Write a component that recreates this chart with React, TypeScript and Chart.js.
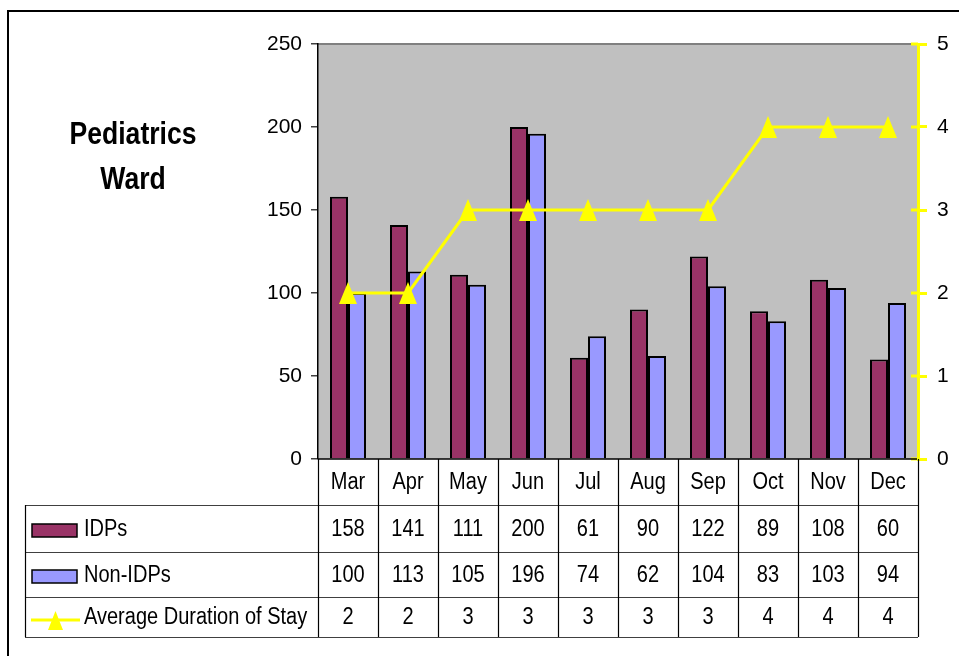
import React, { useEffect, useRef } from "react";
import { Chart, registerables } from "chart.js";

Chart.register(...registerables);

const categories = ["Mar", "Apr", "May", "Jun", "Jul", "Aug", "Sep", "Oct", "Nov", "Dec"];
const idps = [158, 141, 111, 200, 61, 90, 122, 89, 108, 60];
const nonIdps = [100, 113, 105, 196, 74, 62, 104, 83, 103, 94];
const avgStay = [2, 2, 3, 3, 3, 3, 3, 4, 4, 4];
const leftTicks = [0, 50, 100, 150, 200, 250];
const rightTicks = [0, 1, 2, 3, 4, 5];
const seriesNames = ["IDPs", "Non-IDPs", "Average Duration of Stay"];
const titleLines = ["Pediatrics", "Ward"];

const FONT = "'Liberation Sans', Arial, Helvetica, sans-serif";
const IDP_COLOR = "#993366";
const NON_COLOR = "#9999FF";
const LINE_COLOR = "#FFFF00";

function makeTriangle(w: number, h: number) {
  const c = document.createElement("canvas");
  c.width = w;
  c.height = h;
  const g = c.getContext("2d")!;
  g.fillStyle = LINE_COLOR;
  g.beginPath();
  g.moveTo(w / 2, 0);
  g.lineTo(w, h);
  g.lineTo(0, h);
  g.closePath();
  g.fill();
  return c;
}

function textScaled(ctx: CanvasRenderingContext2D, s: string, x: number, y: number, sx: number) {
  ctx.save();
  ctx.translate(x, y);
  ctx.scale(sx, 1);
  ctx.fillText(s, 0, 0);
  ctx.restore();
}

export default function App() {
  const ref = useRef<HTMLCanvasElement>(null);

  useEffect(() => {
    const canvas = ref.current!;
    const tri = makeTriangle(18, 22);

    const tablePlugin = {
      id: "tablePlugin",
      beforeDraw(chart: any) {
        const { ctx, chartArea } = chart;
        ctx.save();
        ctx.fillStyle = "#FFFFFF";
        ctx.fillRect(0, 0, chart.width, chart.height);
        ctx.fillStyle = "#C0C0C0";
        ctx.fillRect(chartArea.left, chartArea.top, chartArea.right - chartArea.left, chartArea.bottom - chartArea.top);
        ctx.strokeStyle = "#808080";
        ctx.lineWidth = 2;
        ctx.beginPath();
        ctx.moveTo(chartArea.left, chartArea.top);
        ctx.lineTo(chartArea.right, chartArea.top);
        ctx.stroke();
        ctx.restore();
      },
      afterDraw(chart: any) {
        const { ctx, chartArea, scales } = chart;
        const x = scales.x;
        const y1 = scales.y1;
        const L = chartArea.left;
        const R = chartArea.right;
        const B = chartArea.bottom;
        ctx.save();

        // inner yellow tick parts on right axis
        ctx.strokeStyle = LINE_COLOR;
        ctx.lineWidth = 3;
        rightTicks.forEach((t) => {
          const py = y1.getPixelForValue(t);
          ctx.beginPath();
          ctx.moveTo(R - 7, py);
          ctx.lineTo(R, py);
          ctx.stroke();
        });

        // x axis line
        ctx.strokeStyle = "#000";
        ctx.lineWidth = 1.5;
        ctx.beginPath();
        ctx.moveTo(L, B);
        ctx.lineTo(R - 1, B);
        ctx.stroke();

        // table geometry
        const rowCat = B + 46;
        const rowIdp = B + 93;
        const rowNon = B + 138;
        const rowEnd = B + 178;
        const tableLeft = 25;
        const n = categories.length;
        const half = (x.getPixelForValue(1) - x.getPixelForValue(0)) / 2;

        ctx.strokeStyle = "#404040";
        ctx.lineWidth = 1.2;
        [rowCat, rowIdp, rowNon, rowEnd].forEach((yy) => {
          ctx.beginPath();
          ctx.moveTo(tableLeft, yy + 0.5);
          ctx.lineTo(R, yy + 0.5);
          ctx.stroke();
        });
        ctx.strokeStyle = "#000";
        ctx.lineWidth = 1.2;
        ctx.beginPath();
        ctx.moveTo(tableLeft + 0.5, rowCat);
        ctx.lineTo(tableLeft + 0.5, rowEnd);
        ctx.stroke();
        for (let i = 0; i <= n; i++) {
          const px = i < n ? x.getPixelForValue(i) - half : x.getPixelForValue(n - 1) + half;
          ctx.beginPath();
          ctx.moveTo(Math.round(px) + 0.5, B);
          ctx.lineTo(Math.round(px) + 0.5, rowEnd);
          ctx.stroke();
        }

        // texts
        const SX = 0.87;
        ctx.fillStyle = "#000";
        ctx.font = `23px ${FONT}`;
        ctx.textAlign = "center";
        ctx.textBaseline = "middle";
        const rows = [idps, nonIdps, avgStay];
        const rowCenters = [(rowCat + rowIdp) / 2, (rowIdp + rowNon) / 2, (rowNon + rowEnd) / 2];
        categories.forEach((c, i) => {
          const px = x.getPixelForValue(i);
          textScaled(ctx, c, px, (B + rowCat) / 2 + 1, SX);
          rows.forEach((r, k) => {
            textScaled(ctx, String(r[i]), px, rowCenters[k] + 1, SX);
          });
        });

        // legend keys
        ctx.textAlign = "left";
        seriesNames.forEach((name, k) => {
          ctx.fillStyle = "#000";
          textScaled(ctx, name, 84, rowCenters[k] + 1, SX);
        });
        const keyX = 32;
        const keyW = 45;
        const keyH = 13;
        [IDP_COLOR, NON_COLOR].forEach((col, k) => {
          const cy = rowCenters[k] + 2;
          ctx.fillStyle = col;
          ctx.fillRect(keyX, cy - keyH / 2, keyW, keyH);
          ctx.strokeStyle = "#000";
          ctx.lineWidth = 1.5;
          ctx.strokeRect(keyX, cy - keyH / 2, keyW, keyH);
        });
        const ly = rowCenters[2] + 3;
        ctx.strokeStyle = LINE_COLOR;
        ctx.lineWidth = 3;
        ctx.beginPath();
        ctx.moveTo(31, ly);
        ctx.lineTo(80, ly);
        ctx.stroke();
        ctx.fillStyle = LINE_COLOR;
        ctx.beginPath();
        ctx.moveTo(55.5, ly - 9);
        ctx.lineTo(63, ly + 10);
        ctx.lineTo(48, ly + 10);
        ctx.closePath();
        ctx.fill();

        // title
        ctx.fillStyle = "#000";
        ctx.font = `bold 32px ${FONT}`;
        ctx.textAlign = "center";
        textScaled(ctx, titleLines[0], 133, 135, 0.83);
        textScaled(ctx, titleLines[1], 133, 180, 0.83);

        // outer border
        ctx.strokeStyle = "#000";
        ctx.lineWidth = 2;
        ctx.beginPath();
        ctx.moveTo(8, chart.height);
        ctx.lineTo(8, 11);
        ctx.lineTo(chart.width, 11);
        ctx.stroke();

        ctx.restore();
      },
    };

    const chart = new Chart(canvas, {
      type: "bar",
      data: {
        labels: categories,
        datasets: [
          {
            type: "line",
            label: seriesNames[2],
            data: avgStay,
            yAxisID: "y1",
            borderColor: LINE_COLOR,
            backgroundColor: LINE_COLOR,
            borderWidth: 3,
            pointStyle: tri as any,
            pointRadius: 10,
            tension: 0,
            order: 0,
          } as any,
          {
            label: seriesNames[0],
            data: idps,
            yAxisID: "y",
            backgroundColor: IDP_COLOR,
            borderColor: "#000",
            borderWidth: 2,
            categoryPercentage: 0.6,
            barPercentage: 1.0,
            order: 1,
          },
          {
            label: seriesNames[1],
            data: nonIdps,
            yAxisID: "y",
            backgroundColor: NON_COLOR,
            borderColor: "#000",
            borderWidth: 2,
            categoryPercentage: 0.6,
            barPercentage: 1.0,
            order: 1,
          },
        ],
      },
      options: {
        responsive: false,
        animation: false,
        devicePixelRatio: 1,
        layout: { padding: { left: 0, right: 0, top: 44, bottom: 197 } },
        plugins: {
          legend: { display: false },
          tooltip: { enabled: false },
          title: { display: false },
        },
        scales: {
          x: {
            display: false,
            offset: true,
          },
          y: {
            position: "left",
            min: 0,
            max: 250,
            afterBuildTicks: (s: any) => {
              s.ticks = leftTicks.map((v) => ({ value: v }));
            },
            afterFit: (s: any) => {
              s.width = 318;
            },
            ticks: {
              color: "#000",
              font: { family: FONT, size: 21 },
              padding: 9,
            },
            grid: {
              drawOnChartArea: false,
              drawTicks: true,
              tickLength: 7,
              color: "#404040",
              lineWidth: 1.5,
            },
            border: { display: true, color: "#000", width: 1.5 },
          },
          y1: {
            position: "right",
            min: 0,
            max: 5,
            afterBuildTicks: (s: any) => {
              s.ticks = rightTicks.map((v) => ({ value: v }));
            },
            afterFit: (s: any) => {
              s.width = 41;
            },
            ticks: {
              color: "#000",
              font: { family: FONT, size: 21 },
              padding: 10,
            },
            grid: {
              drawOnChartArea: false,
              drawTicks: true,
              tickLength: 9,
              color: LINE_COLOR,
              lineWidth: 3,
            },
            border: { display: true, color: LINE_COLOR, width: 3 },
          },
        },
      } as any,
      plugins: [tablePlugin],
    });

    return () => chart.destroy();
  }, []);

  return (
    <div style={{ position: "fixed", left: 0, top: 0, width: 959, height: 656 }}>
      <canvas ref={ref} width={959} height={656} style={{ display: "block" }} />
    </div>
  );
}
